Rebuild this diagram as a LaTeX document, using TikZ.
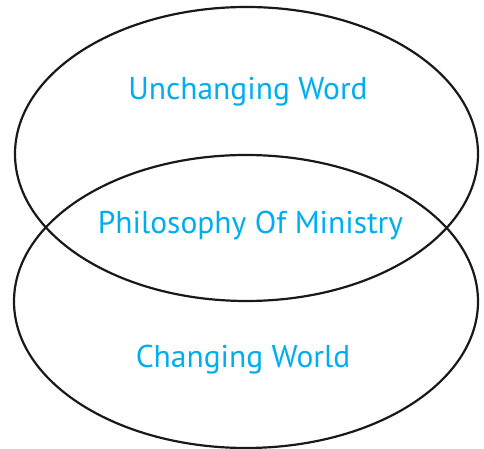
\documentclass[tikz,border=0pt]{standalone}
\usepackage{fontspec}
\setmainfont{PT Sans}
\definecolor{lblcyan}{RGB}{0,174,239}
\begin{document}
\begin{tikzpicture}[x=1pt,y=1pt,
  ring/.style={draw=black!90,line width=2.2pt},
  lbl/.style={text=lblcyan,font=\fontsize{31.5}{38}\selectfont,anchor=base,inner sep=0pt}]
\useasboundingbox (0,0) rectangle (484,449);
\draw[ring] (246.5,295) ellipse [x radius=231.5,y radius=147];
\draw[ring] (246,147.5) ellipse [x radius=232,y radius=146.5];
\node[lbl] (uw) at (248,349) {Unchanging Word};
\node[lbl] (pm) at (250.5,215) {Philosophy Of Ministry};
\node[lbl] (cw) at (243,81) {Changing World};
\end{tikzpicture}
\end{document}
